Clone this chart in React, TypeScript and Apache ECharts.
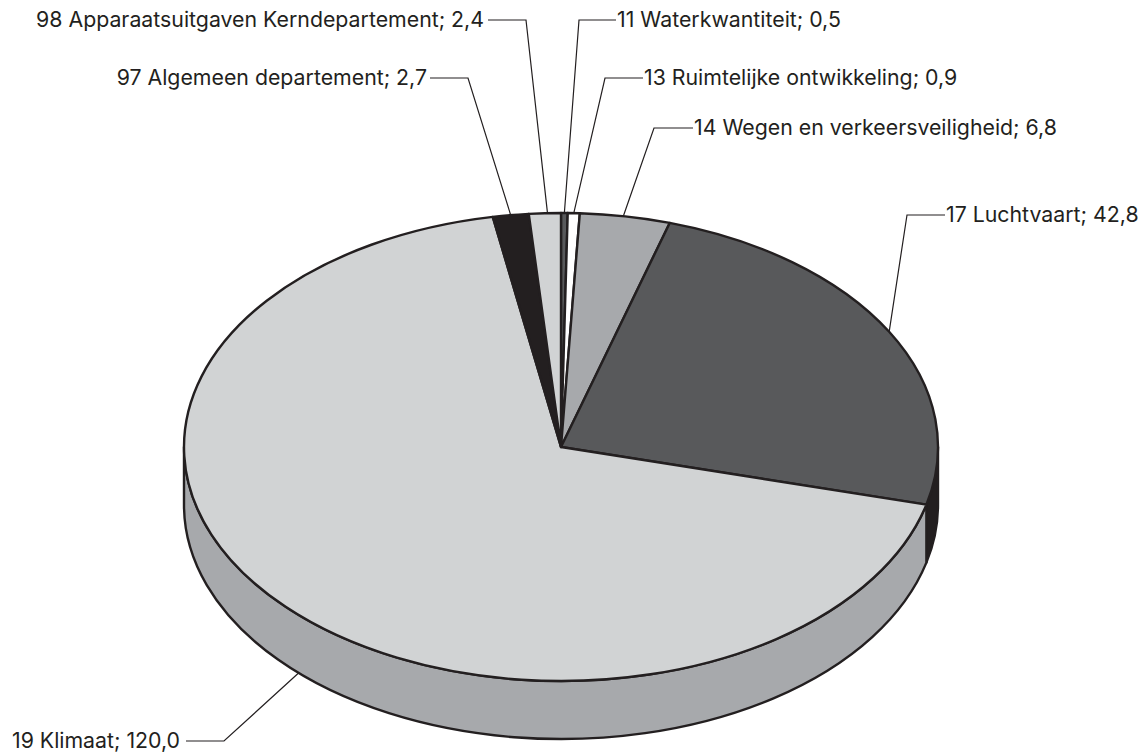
import React, { useEffect, useRef } from "react";
import * as echarts from "echarts";

const NAMES = [
  "11 Waterkwantiteit",
  "13 Ruimtelijke ontwikkeling",
  "14 Wegen en verkeersveiligheid",
  "17 Luchtvaart",
  "19 Klimaat",
  "97 Algemeen departement",
  "98 Apparaatsuitgaven Kerndepartement",
];
const VALUE_LABELS = ["0,5", "0,9", "6,8", "42,8", "120,0", "2,7", "2,4"];
const VALUES = [0.5, 0.9, 6.8, 42.8, 120.0, 2.7, 2.4];

const TOP_COLORS = ["#58595b", "#ffffff", "#a7a9ac", "#58595b", "#d1d3d4", "#231f20", "#d1d3d4"];
const SIDE_COLORS = ["#231f20", "#231f20", "#231f20", "#231f20", "#a7a9ac", "#a7a9ac", "#a7a9ac"];

// Layout of the leader lines: elbow, the end next to the text, the gap to the text, the nudge of the anchor along the rim.
const LEADERS = [
  { elbow: [579, 20], end: [616, 20], gap: 1, nudge: 0, align: "left" },
  { elbow: [605, 78], end: [643, 78], gap: 1, nudge: 0, align: "left" },
  { elbow: [654, 128], end: [693, 128], gap: 1, nudge: -0.3, align: "left" },
  { elbow: [907, 215], end: [945, 215], gap: 1, nudge: 0, align: "left" },
  { elbow: [224, 741], end: [186, 741], gap: -6, nudge: -2.8, align: "right" },
  { elbow: [468, 78], end: [430, 78], gap: -3, nudge: 0, align: "right" },
  { elbow: [526, 20], end: [488, 20], gap: -4, nudge: 0.4, align: "right" },
];

const CX = 561;
const CY = 447;
const RX = 377;
const RY = 234;
const DEPTH = 58;
const INK = "#231f20";
const FONT = '21.3px Inter, "Liberation Sans", Arial, sans-serif';

const total = VALUES.reduce((a, b) => a + b, 0);
const bounds: number[] = [0];
VALUES.forEach((v) => bounds.push(bounds[bounds.length - 1] + (v / total) * 360));

const pt = (deg: number, dy = 0): [number, number] => {
  const r = (deg * Math.PI) / 180;
  return [CX + RX * Math.sin(r), CY - RY * Math.cos(r) + dy];
};

const topPath = (a0: number, a1: number) => {
  const p0 = pt(a0);
  const p1 = pt(a1);
  const large = a1 - a0 > 180 ? 1 : 0;
  return `M${CX} ${CY}L${p0[0]} ${p0[1]}A${RX} ${RY} 0 ${large} 1 ${p1[0]} ${p1[1]}Z`;
};

const sidePath = (a0: number, a1: number) => {
  const p0 = pt(a0);
  const p1 = pt(a1);
  const q0 = pt(a0, DEPTH);
  const q1 = pt(a1, DEPTH);
  return `M${p0[0]} ${p0[1]}A${RX} ${RY} 0 0 1 ${p1[0]} ${p1[1]}L${q1[0]} ${q1[1]}A${RX} ${RY} 0 0 0 ${q0[0]} ${q0[1]}Z`;
};

const data = NAMES.map((name, i) => ({ name, value: VALUES[i] }));

export default function App() {
  const ref = useRef<HTMLDivElement>(null);
  useEffect(() => {
    const chart = echarts.init(ref.current!, null, { renderer: "svg" });
    chart.setOption({
      animation: false,
      backgroundColor: "#ffffff",
      series: [
        {
          type: "custom",
          name: "side",
          coordinateSystem: "none",
          silent: true,
          data,
          renderItem: (params: any) => {
            const i = params.dataIndex;
            const a0 = Math.max(bounds[i], 90);
            const a1 = Math.min(bounds[i + 1], 270);
            if (a1 <= a0) return { type: "group", children: [] };
            return {
              type: "path",
              shape: { pathData: sidePath(a0, a1) },
              style: { fill: SIDE_COLORS[i], stroke: INK, lineWidth: 2.4, lineJoin: "round" },
            };
          },
        },
        {
          type: "custom",
          name: "top",
          coordinateSystem: "none",
          silent: true,
          data,
          renderItem: (params: any) => {
            const i = params.dataIndex;
            return {
              type: "path",
              shape: { pathData: topPath(bounds[i], bounds[i + 1]) },
              style: { fill: TOP_COLORS[i], stroke: INK, lineWidth: 2.4, lineJoin: "round" },
            };
          },
        },
        {
          type: "custom",
          name: "labels",
          coordinateSystem: "none",
          silent: true,
          data,
          renderItem: (params: any) => {
            const i = params.dataIndex;
            const l = LEADERS[i];
            const mid = (bounds[i] + bounds[i + 1]) / 2 + l.nudge;
            const front = mid > 90 && mid < 270;
            const anchor = pt(mid, front ? DEPTH : 0);
            return {
              type: "group",
              children: [
                {
                  type: "polyline",
                  shape: { points: [anchor, l.elbow, l.end] },
                  style: { fill: "none", stroke: INK, lineWidth: 1.2 },
                },
                {
                  type: "text",
                  style: {
                    text: `${NAMES[i]}; ${VALUE_LABELS[i]}`,
                    x: l.end[0] + l.gap,
                    y: l.end[1] - 1,
                    align: l.align,
                    verticalAlign: "middle",
                    fill: INK,
                    font: FONT,
                  },
                },
              ],
            };
          },
        },
      ],
    });
    return () => chart.dispose();
  }, []);
  return <div ref={ref} style={{ position: "fixed", left: 0, top: 0, width: 1147, height: 756 }} />;
}
